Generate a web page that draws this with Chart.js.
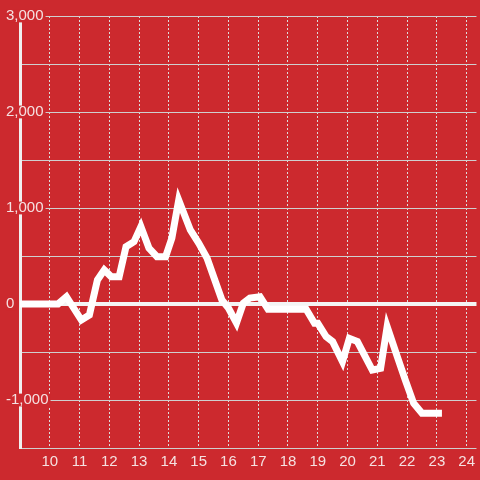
<!DOCTYPE html>
<html>
<head>
<meta charset="utf-8">
<script src="https://cdn.jsdelivr.net/npm/chart.js@4/dist/chart.umd.min.js"></script>
<style>
  html, body { margin: 0; padding: 0; background: #cc292e; }
  #wrap { width: 480px; height: 480px; }
</style>
</head>
<body>
<div id="wrap"><canvas id="chart"></canvas></div>
<script>
// hours of the day (x) and running value (y)
const hours = [9, 10.28, 10.56, 11.06, 11.33, 11.6, 11.83, 12.06, 12.33, 12.56,
  12.83, 13.06, 13.33, 13.6, 13.89, 14.1, 14.33, 14.72, 15.0, 15.28,
  15.78, 16.0, 16.27, 16.5, 16.72, 17.06, 17.33, 18.61, 18.89, 19.0,
  19.28, 19.5, 19.83, 20.06, 20.33, 20.83, 21.11, 21.33, 21.67, 21.94,
  22.22, 22.5, 23.17];
const values = [0, 0, 76, -167, -115, 250, 354, 285, 285, 597,
  649, 806, 583, 493, 493, 687, 1083, 771, 635, 479,
  42, -42, -198, 10, 62, 76, -55, -55, -201, -201,
  -340, -392, -601, -358, -392, -688, -670, -236, -549, -792,
  -1035, -1139, -1139];

const xTicks = [10, 11, 12, 13, 14, 15, 16, 17, 18, 19, 20, 21, 22, 23, 24];
const yLabelled = [-1000, 0, 1000, 2000, 3000];

const red = '#cc292e';
const labelColor = '#f5e1e1';
const fontFamily = '"Liberation Sans", Arial, sans-serif';

new Chart(document.getElementById('chart'), {
  type: 'line',
  data: {
    datasets: [{
      data: hours.map((h, i) => ({ x: h, y: values[i] })),
      borderColor: '#ffffff',
      borderWidth: 7,
      pointRadius: 0,
      tension: 0,
      fill: false
    }]
  },
  options: {
    responsive: true,
    maintainAspectRatio: false,
    animation: false,
    layout: { padding: { left: 6, top: 16, right: 0, bottom: 0 } },
    plugins: { legend: { display: false }, tooltip: { enabled: false } },
    scales: {
      x: {
        type: 'linear',
        min: 9,
        max: 24.33,
        afterBuildTicks: (scale) => {
          scale.ticks = xTicks.map(v => ({ value: v }));
        },
        afterFit: (scale) => { scale.height = 32; },
        ticks: {
          autoSkip: false,
          maxRotation: 0,
          padding: 5,
          color: labelColor,
          font: { family: fontFamily, size: 15 }
        },
        grid: { color: '#dcdcdc', lineWidth: 1, drawTicks: false },
        border: { display: false, dash: [2, 2] }
      },
      y: {
        min: -1500,
        max: 3000,
        afterFit: (scale) => { scale.width = 14; },
        ticks: {
          stepSize: 500,
          mirror: true,
          padding: -14,
          crossAlign: 'near',
          color: labelColor,
          font: { family: fontFamily, size: 15, lineHeight: 0.85 },
          callback: (v) => yLabelled.includes(v) ? v.toLocaleString('en-US') : '',
          showLabelBackdrop: (ctx) => yLabelled.includes(ctx.tick.value),
          backdropColor: red,
          backdropPadding: { top: 0, bottom: 0, left: 0, right: 2 }
        },
        grid: {
          drawTicks: false,
          color: (ctx) => ctx.tick && ctx.tick.value === 0 ? '#f4f4f4' : '#cfcfcf',
          lineWidth: (ctx) => ctx.tick && ctx.tick.value === 0 ? 4 : 1
        },
        border: { display: true, color: '#f0f0f0', width: 3 }
      }
    }
  }
});
</script>
</body>
</html>
